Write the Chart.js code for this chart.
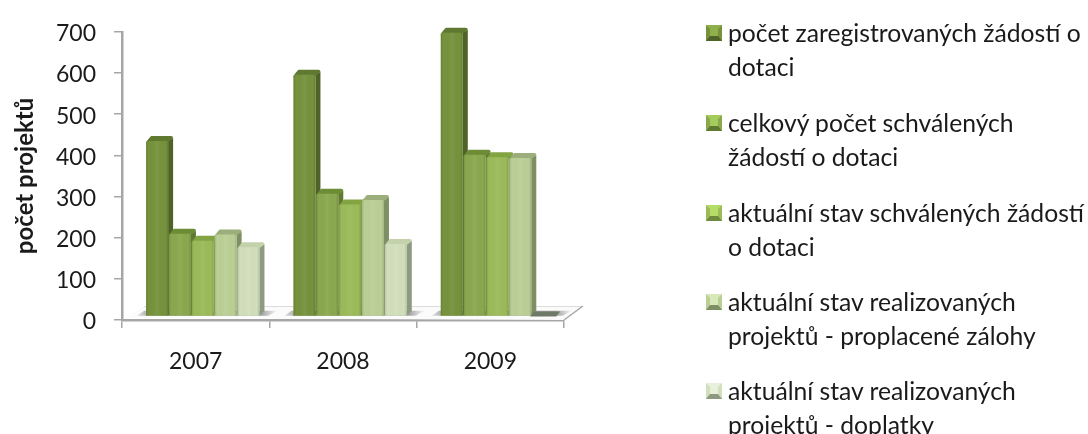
<!DOCTYPE html>
<html>
<head>
<meta charset="utf-8">
<script src="https://cdn.jsdelivr.net/npm/chart.js@4/dist/chart.umd.js"></script>
<style>
  html, body { margin: 0; padding: 0; background: #fff; }
  #wrap { position: relative; width: 1088px; height: 434px; overflow: hidden; }
  #legend { position: absolute; left: 0; top: 0; font-family: Lato, sans-serif; font-size: 24.7px; color: #1a1a1a; }
  .item { position: absolute; left: 728px; width: 360px; line-height: 33.5px; white-space: pre; }
  .swatch { position: absolute; left: 706px; width: 16px; height: 16px; box-sizing: border-box; border: 4px solid; border-width: 4px 4px 5px 4px; }
</style>
</head>
<body>
<div id="wrap">
  <canvas id="myChart" width="1088" height="434"></canvas>
  <div id="legend"></div>
</div>
<script>
const years = ['2007', '2008', '2009'];
const registered = [426, 587, 689];
const approved = [201, 298, 393];
const currentApproved = [184, 272, 387];
const advances = [199, 283, 385];
const topUps = [168, 176, 0];
const yTicks = [0, 100, 200, 300, 400, 500, 600, 700];

const seriesNames = [
  'počet zaregistrovaných žádostí o\ndotaci',
  'celkový počet schválených\nžádostí o dotaci',
  'aktuální stav schválených žádostí\no dotaci',
  'aktuální stav realizovaných\nprojektů - proplacené zálohy',
  'aktuální stav realizovaných\nprojektů - doplatky'
];
const seriesValues = [registered, approved, currentApproved, advances, topUps];

// front, side, top colours for the bars
const frontColors = ['#76923c', '#8aa84e', '#9bbb59', '#bacf95', '#d2dfbc'];
const sideColors = ['#4f6228', '#5f7a30', '#6f8a3c', '#7d8f63', '#8e9a80'];
const topColors = ['#5f7a30', '#6c8c36', '#82a442', '#9cae7c', '#c4d2ac'];
// legend swatch bevel
const swatchLight = ['#8fb04a', '#a4cc58', '#b4dc66', '#d8e8b8', '#e8f0dc'];

const depthX = 5, depthY = 5;
const shiftX = 7.5, shiftY = -3.5;  // bars stand a bit inside the floor

function shade(ctx, x, w) {
  const g = ctx.createLinearGradient(x, 0, x + w, 0);
  g.addColorStop(0, 'rgba(0,0,0,0.12)');
  g.addColorStop(0.12, 'rgba(0,0,0,0)');
  g.addColorStop(0.5, 'rgba(255,255,255,0.05)');
  g.addColorStop(0.88, 'rgba(0,0,0,0)');
  g.addColorStop(1, 'rgba(0,0,0,0.14)');
  return g;
}

function drawBar(ctx, el, i) {
  const p = el.getProps(['x', 'y', 'base', 'width'], true);
  const x = p.x - p.width / 2 + shiftX;
  const w = p.width - 0.8;
  const y = p.y + shiftY;
  const b = p.base + shiftY;
  ctx.save();
  if (b - y < 1) {
    // empty bar, only its dark footprint shows
    ctx.fillStyle = '#6f7a66';
    ctx.beginPath();
    ctx.moveTo(x - 2, b);
    ctx.lineTo(x + 2, b - 5);
    ctx.lineTo(x + w + 6, b - 5);
    ctx.lineTo(x + w + 2, b);
    ctx.closePath();
    ctx.fill();
    ctx.restore();
    return;
  }
  // side
  ctx.fillStyle = sideColors[i];
  ctx.beginPath();
  ctx.moveTo(x + w, y);
  ctx.lineTo(x + w + depthX, y - depthY + 2);
  ctx.lineTo(x + w + depthX, b - depthY);
  ctx.lineTo(x + w, b);
  ctx.closePath();
  ctx.fill();
  // top, with the soft corners of the bevel
  ctx.fillStyle = topColors[i];
  ctx.beginPath();
  ctx.moveTo(x, y + 1.5);
  ctx.quadraticCurveTo(x + 1, y - 1, x + depthX, y - depthY);
  ctx.lineTo(x + w + depthX - 2, y - depthY);
  ctx.quadraticCurveTo(x + w + depthX, y - depthY, x + w + depthX, y - depthY + 2);
  ctx.lineTo(x + w, y + 1);
  ctx.closePath();
  ctx.fill();
  // front
  ctx.fillStyle = frontColors[i];
  ctx.beginPath();
  ctx.moveTo(x, b);
  ctx.lineTo(x, y + 1.5);
  ctx.quadraticCurveTo(x, y, x + 2, y);
  ctx.lineTo(x + w - 1.5, y);
  ctx.quadraticCurveTo(x + w, y, x + w, y + 1.5);
  ctx.lineTo(x + w, b);
  ctx.closePath();
  ctx.fill();
  ctx.fillStyle = shade(ctx, x, w);
  ctx.fill();
  ctx.restore();
}

const bars3d = {
  id: 'bars3d',
  beforeDatasetsDraw(chart) {
    const { ctx, chartArea: a } = chart;
    const y0 = a.bottom;
    ctx.save();
    // floor
    ctx.fillStyle = '#fbfbfb';
    ctx.beginPath();
    ctx.moveTo(a.left + 4, y0 - 2);
    ctx.lineTo(a.left + 22, y0 - 14);
    ctx.lineTo(a.right + 19, y0 - 14);
    ctx.lineTo(a.right, y0);
    ctx.closePath();
    ctx.fill();
    ctx.strokeStyle = '#dcdcdc';
    ctx.lineWidth = 1;
    ctx.beginPath();
    ctx.moveTo(a.left + 22, y0 - 13.5);
    ctx.lineTo(a.right + 18, y0 - 13.5);
    ctx.stroke();
    ctx.strokeStyle = '#a6a6a6';
    ctx.lineWidth = 1.5;
    ctx.beginPath();
    ctx.moveTo(a.right, y0);
    ctx.lineTo(a.right + 19, y0 - 14);
    ctx.stroke();
    // group shadows on the floor
    const first = chart.getDatasetMeta(0).data;
    const last = chart.getDatasetMeta(seriesValues.length - 1).data;
    first.forEach((el, k) => {
      const left = el.x - el.width / 2 + shiftX;
      const right = last[k].x + last[k].width / 2 + shiftX;
      const b = el.base + shiftY;
      const g = ctx.createLinearGradient(left - 10, 0, right + 15, 0);
      g.addColorStop(0, 'rgba(120,120,120,0.15)');
      g.addColorStop(0.1, 'rgba(110,110,110,0.65)');
      g.addColorStop(0.9, 'rgba(110,110,110,0.65)');
      g.addColorStop(1, 'rgba(120,120,120,0.1)');
      ctx.fillStyle = g;
      ctx.beginPath();
      ctx.moveTo(left - 9, b);
      ctx.lineTo(left - 2, b - 5);
      ctx.lineTo(right + 17, b - 5);
      ctx.lineTo(right + 8, b);
      ctx.closePath();
      ctx.fill();
    });
    ctx.restore();
    // left to right, so a bar's front covers its neighbour's side
    seriesValues.forEach((values, i) => {
      chart.getDatasetMeta(i).data.forEach(el => drawBar(ctx, el, i));
    });
  },
  beforeDatasetDraw() {
    return false;
  }
};

const datasets = seriesValues.map((values, i) => ({
  label: seriesNames[i].replace('\n', ' '),
  data: values,
  backgroundColor: frontColors[i],
  barPercentage: 1,
  categoryPercentage: 0.775
}));

new Chart(document.getElementById('myChart'), {
  type: 'bar',
  data: { labels: years, datasets },
  plugins: [bars3d],
  options: {
    responsive: false,
    animation: false,
    layout: { padding: { left: 0, top: 24, right: 524, bottom: 0 } },
    plugins: { legend: { display: false }, tooltip: { enabled: false } },
    scales: {
      x: {
        position: 'bottom',
        afterFit(s) { s.height = 434 - 320; },
        grid: { display: true, offset: true, drawOnChartArea: false, color: '#a6a6a6', lineWidth: 1.5, tickLength: 8 },
        border: { color: '#a6a6a6', width: 2.5 },
        ticks: { color: '#1a1a1a', font: { family: 'Lato', size: 23 }, padding: 20, maxRotation: 0 }
      },
      y: {
        min: 0,
        max: 700,
        afterFit(s) { s.width = 122; },
        afterBuildTicks(s) { s.ticks = yTicks.map(v => ({ value: v })); },
        grid: { display: true, drawOnChartArea: false, color: '#a6a6a6', lineWidth: 1.5, tickLength: 8 },
        border: { color: '#a6a6a6', width: 2.5 },
        title: { display: true, text: 'počet projektů', color: '#1a1a1a', font: { family: 'Lato', size: 24, weight: 'bold' }, padding: { top: 11, bottom: 0 } },
        ticks: { color: '#1a1a1a', font: { family: 'Lato', size: 23 }, padding: 18, labelOffset: 2 }
      }
    }
  }
});

// legend with its line breaks, built from the series names
const legend = document.getElementById('legend');
const legendTops = [16, 106, 196, 285, 374];
seriesNames.forEach((name, i) => {
  const sw = document.createElement('div');
  sw.className = 'swatch';
  sw.style.top = (legendTops[i] + 9) + 'px';
  sw.style.background = swatchLight[i];
  sw.style.borderColor = frontColors[i];
  sw.style.borderTopColor = swatchLight[i];
  sw.style.borderBottomColor = sideColors[i];
  legend.appendChild(sw);
  const it = document.createElement('div');
  it.className = 'item';
  it.style.top = legendTops[i] + 'px';
  it.textContent = name;
  legend.appendChild(it);
});
</script>
</body>
</html>
